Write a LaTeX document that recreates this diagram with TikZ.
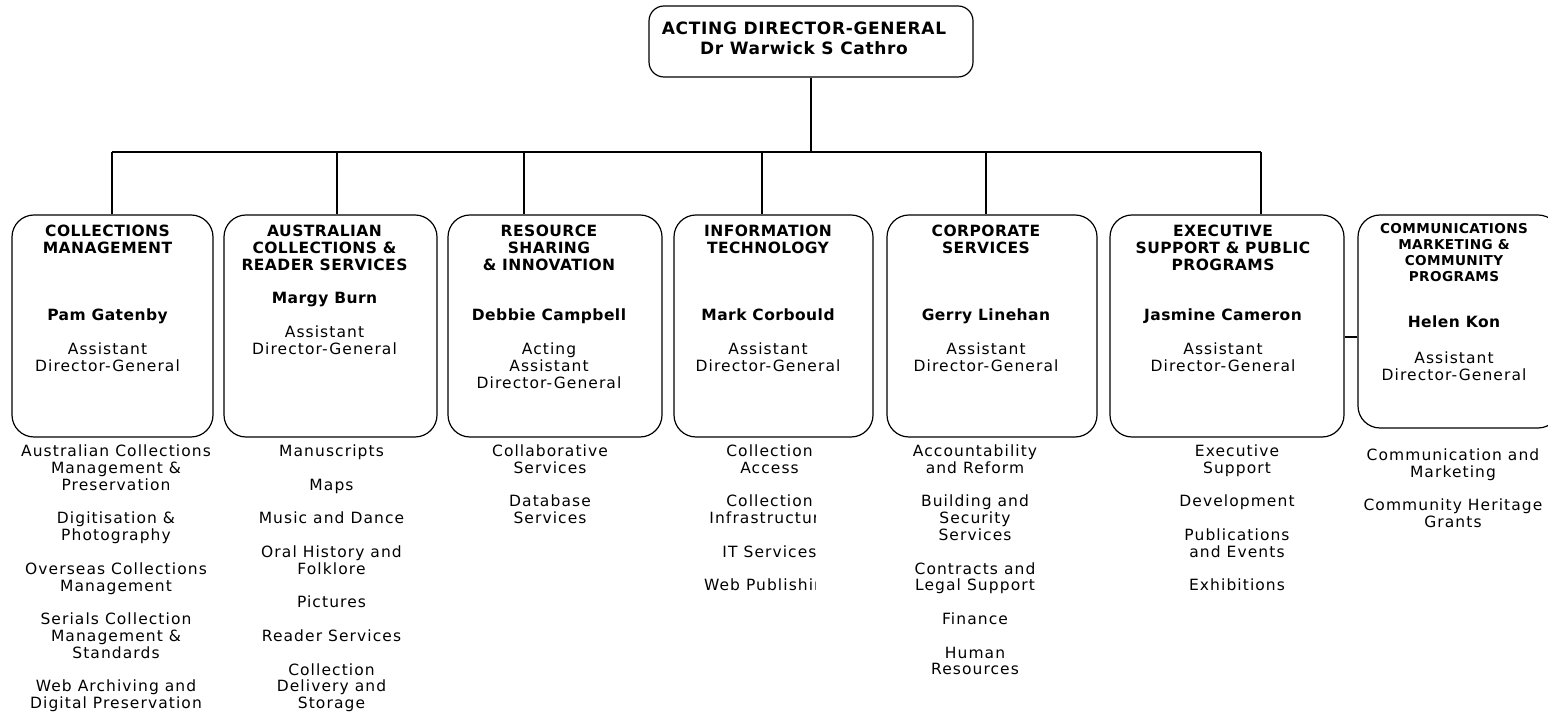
\documentclass[tikz,border=0pt]{standalone}
\usepackage{fontspec}
\newfontfamily\rfont{DejaVu Sans}[LetterSpace=7]
\newfontfamily\hfont{DejaVu Sans}[LetterSpace=3]
\newfontfamily\tfont{DejaVu Sans}[LetterSpace=4]
\newcommand{\frl}{\rule{0pt}{6.5pt}}
\begin{document}
\begin{tikzpicture}[x=0.5pt,y=-0.5pt,line width=0.6pt,
  box/.style={draw, rounded corners=11pt, inner sep=0pt, minimum height=111pt},
  ttl/.style={font=\fontsize{8.5}{10}\selectfont\tfont\bfseries, align=center, anchor=north, inner sep=0pt},
  hd/.style={font=\fontsize{7.75}{8.4}\selectfont\hfont\bfseries, align=center, anchor=north, inner sep=0pt},
  shd/.style={font=\fontsize{6.8}{8}\selectfont\hfont\bfseries, align=center, anchor=north, inner sep=0pt},
  tx/.style={font=\fontsize{7.75}{8.4}\selectfont\rfont, align=center, anchor=north, inner sep=0pt}
]
\useasboundingbox (0,0) rectangle (1548,715);

% top
\node[box, minimum width=162pt, minimum height=35.5pt, rounded corners=7.5pt] (top) at (811,41.5) {};
\node[ttl] (toptext) at (804,21) {\frl ACTING DIRECTOR-GENERAL\\Dr Warwick S Cathro};

% boxes
\node[box, minimum width=100.5pt] (b1) at (112.5,326) {};
\node[box, minimum width=106.5pt] (b2) at (330.5,326) {};
\node[box, minimum width=107pt] (b3) at (555,326) {};
\node[box, minimum width=99.5pt] (b4) at (773.5,326) {};
\node[box, minimum width=105pt] (b5) at (992,326) {};
\node[box, minimum width=117pt] (b6) at (1227,326) {};
\node[box, minimum width=101pt, minimum height=106.5pt] (b7) at (1459,321.5) {};

% connectors
\coordinate (d1) at (112,152);
\coordinate (d2) at (337,152);
\coordinate (d3) at (524,152);
\coordinate (d4) at (762,152);
\coordinate (d5) at (986,152);
\coordinate (d6) at (1261,152);
\coordinate (c67) at (1350,337);
\draw (top.south) -- (top.south |- d1);
\draw (d1) -- (d6);
\draw (d1) -- (d1 |- b1.north);
\draw (d2) -- (d2 |- b2.north);
\draw (d3) -- (d3 |- b3.north);
\draw (d4) -- (d4 |- b4.north);
\draw (d5) -- (d5 |- b5.north);
\draw (d6) -- (d6 |- b6.north);
\draw (b6.east |- c67) -- (b7.west |- c67);

% box texts
\node[hd] (h1) at (107.5,223) {\frl COLLECTIONS\\MANAGEMENT};
\node[hd] (n1) at (107.5,307) {\frl Pam Gatenby};
\node[tx] (t1) at (107.5,341) {\frl Assistant\\Director-General};

\node[hd] (h2) at (324.5,223) {\frl AUSTRALIAN\\COLLECTIONS \&\\READER SERVICES};
\node[hd] (n2) at (324.5,290) {\frl Margy Burn};
\node[tx] (t2) at (324.5,324) {\frl Assistant\\Director-General};

\node[hd] (h3) at (549,223) {\frl RESOURCE\\SHARING\\\& INNOVATION};
\node[hd] (n3) at (549,307) {\frl Debbie Campbell};
\node[tx] (t3) at (549,341) {\frl Acting\\Assistant\\Director-General};

\node[hd] (h4) at (768,223) {\frl INFORMATION\\TECHNOLOGY};
\node[hd] (n4) at (768,307) {\frl Mark Corbould};
\node[tx] (t4) at (768,341) {\frl Assistant\\Director-General};

\node[hd] (h5) at (986,223) {\frl CORPORATE\\SERVICES};
\node[hd] (n5) at (986,307) {\frl Gerry Linehan};
\node[tx] (t5) at (986,341) {\frl Assistant\\Director-General};

\node[hd] (h6) at (1223,223) {\frl EXECUTIVE\\SUPPORT \& PUBLIC\\PROGRAMS};
\node[hd] (n6) at (1223,307) {\frl Jasmine Cameron};
\node[tx] (t6) at (1223,341) {\frl Assistant\\Director-General};

\node[shd] (h7) at (1454,220) {\frl COMMUNICATIONS\\MARKETING \&\\COMMUNITY\\PROGRAMS};
\node[hd] (n7) at (1454,314) {\frl Helen Kon};
\node[tx] (t7) at (1454,350) {\frl Assistant\\Director-General};

% lists
\node[tx] (l1) at (116,443) {\frl Australian Collections\\Management \&\\Preservation\\[8.4pt]Digitisation \&\\Photography\\[8.4pt]Overseas Collections\\Management\\[8.4pt]Serials Collection\\Management \&\\Standards\\[8.4pt]Web Archiving and\\Digital Preservation};
\node[tx] (l2) at (331.5,443) {\frl Manuscripts\\[8.4pt]Maps\\[8.4pt]Music and Dance\\[8.4pt]Oral History and\\Folklore\\[8.4pt]Pictures\\[8.4pt]Reader Services\\[8.4pt]Collection\\Delivery and\\Storage};
\node[tx] (l3) at (550,443) {\frl Collaborative\\Services\\[8.4pt]Database\\Services};
\begin{scope}
\clip (650,440) rectangle (815.5,620);
\node[tx] (l4) at (769.5,443) {\frl Collection\\Access\\[8.4pt]Collection\\Infrastructure\\[8.4pt]IT Services\\[8.4pt]Web Publishing};
\end{scope}
\node[tx] (l5) at (975,443) {\frl Accountability\\and Reform\\[8.4pt]Building and\\Security\\Services\\[8.4pt]Contracts and\\Legal Support\\[8.4pt]Finance\\[8.4pt]Human\\Resources};
\node[tx] (l6) at (1237,443) {\frl Executive\\Support\\[8.4pt]Development\\[8.4pt]Publications\\and Events\\[8.4pt]Exhibitions};
\node[tx] (l7) at (1453,447) {\frl Communication and\\Marketing\\[8.4pt]Community Heritage\\Grants};
\end{tikzpicture}
\end{document}
